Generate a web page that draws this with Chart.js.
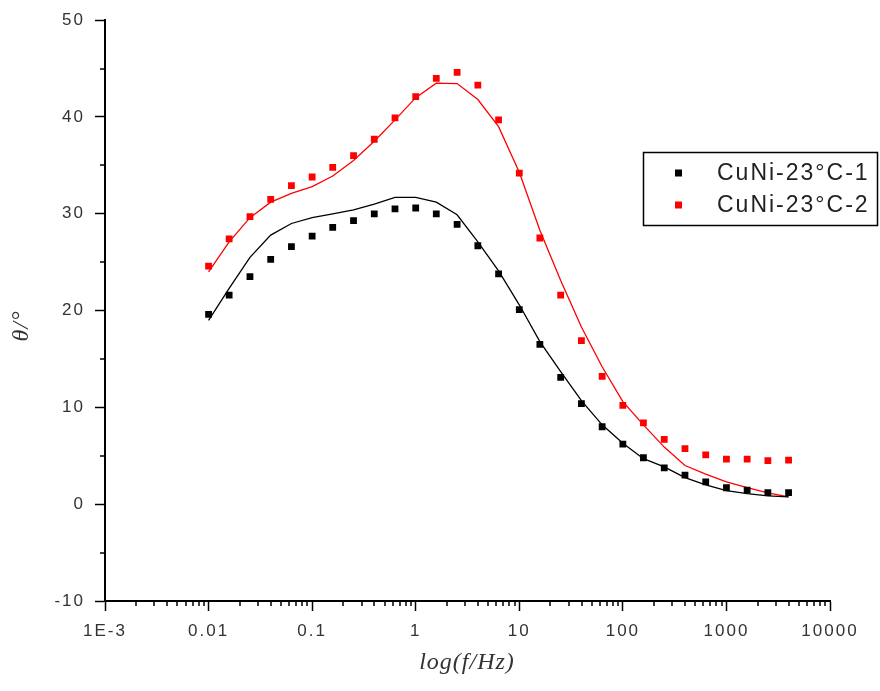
<!DOCTYPE html>
<html>
<head>
<meta charset="utf-8">
<script src="https://cdn.jsdelivr.net/npm/chart.js@4.4.0/dist/chart.umd.min.js"></script>
<style>
    html, body { margin: 0; padding: 0; background: #fff; }
    #wrap { width: 880px; height: 691px; position: relative; }
</style>
</head>
<body>
<div id="wrap"><canvas id="bodeChart" width="880" height="691"></canvas></div>
<script>
// 频率 (Hz)
const freqs = [0.01, 0.0158, 0.0251, 0.0398, 0.0631, 0.1, 0.158, 0.251, 0.398, 0.631,
               1, 1.58, 2.51, 3.98, 6.31, 10, 15.8, 25.1, 39.8, 63.1,
               100, 158, 251, 398, 631, 1000, 1585, 2512, 3981];

// 测量点
const phase1 = [19.6, 21.6, 23.5, 25.3, 26.6, 27.7, 28.6, 29.3, 30.0, 30.5,
                30.6, 30.0, 28.9, 26.7, 23.8, 20.1, 16.5, 13.1, 10.4, 8.0,
                6.2, 4.8, 3.75, 3.0, 2.3, 1.7, 1.45, 1.2, 1.2];
const phase2 = [24.6, 27.4, 29.7, 31.5, 32.9, 33.8, 34.8, 36.0, 37.7, 39.9,
                42.1, 44.0, 44.6, 43.3, 39.7, 34.2, 27.5, 21.6, 16.9, 13.2,
                10.2, 8.4, 6.7, 5.75, 5.1, 4.65, 4.65, 4.5, 4.55];

// 拟合曲线
const fit1 = [19.0, 22.3, 25.5, 27.8, 29.0, 29.6, 30.0, 30.4, 31.0, 31.7,
              31.7, 31.2, 29.9, 27.1, 24.1, 20.6, 16.8, 13.7, 10.7, 8.2,
              6.3, 4.7, 3.85, 2.75, 2.0, 1.4, 1.1, 0.86, 0.75];
const fit2 = [24.0, 27.1, 29.6, 31.2, 32.1, 32.8, 33.9, 35.5, 37.5, 39.7,
              42.0, 43.5, 43.45, 41.8, 39.0, 34.3, 28.3, 23.1, 18.3, 14.2,
              10.6, 8.2, 5.9, 4.0, 3.1, 2.3, 1.7, 1.17, 0.75];

const seriesNames = ['CuNi-23°C-1', 'CuNi-23°C-2'];

// 坐标轴刻度
const xTickValues = [0.001, 0.01, 0.1, 1, 10, 100, 1000, 10000];
const xTickLabels = ['1E-3', '0.01', '0.1', '1', '10', '100', '1000', '10000'];
const yMinorTicks = [-5, 5, 15, 25, 35, 45];

function toPoints(ys) {
    return freqs.map((f, i) => ({ x: f, y: ys[i] }));
}

// 字间距 + 次刻度 + 图例 + 轴标题
const originStyle = {
    id: 'originStyle',
    beforeDraw(chart) {
        chart.ctx.letterSpacing = '2px';
    },
    afterDraw(chart) {
        const ctx = chart.ctx;
        const xs = chart.scales.x;
        const ys = chart.scales.y;
        const area = chart.chartArea;

        ctx.save();
        ctx.strokeStyle = '#000';
        ctx.lineWidth = 1.5;
        ctx.beginPath();
        // x 次刻度
        for (let d = -3; d < 4; d++) {
            for (let m = 2; m < 10; m++) {
                const px = Math.round(xs.getPixelForValue(m * Math.pow(10, d)));
                ctx.moveTo(px, area.bottom);
                ctx.lineTo(px, area.bottom + 5);
            }
        }
        // y 次刻度
        yMinorTicks.forEach(v => {
            const py = Math.round(ys.getPixelForValue(v));
            ctx.moveTo(area.left - 5, py);
            ctx.lineTo(area.left, py);
        });
        ctx.stroke();

        // 图例
        ctx.lineWidth = 1.5;
        ctx.strokeRect(643.5, 152.5, 234, 73);
        ctx.font = '23px "Liberation Sans", Arial, sans-serif';
        ctx.letterSpacing = '2px';
        ctx.textBaseline = 'middle';
        ctx.textAlign = 'left';
        [0, 1].forEach(i => {
            const ds = chart.data.datasets[i];
            const rowY = 173 + i * 32;
            ctx.fillStyle = ds.backgroundColor;
            ctx.fillRect(675, rowY - 3.5, 7, 7);
            ctx.fillStyle = '#222';
            ctx.fillText(ds.label, 717, rowY + 1);
        });

        // 轴标题
        ctx.fillStyle = '#333';
        ctx.letterSpacing = '1px';
        ctx.textAlign = 'center';
        ctx.font = 'italic 24px "Liberation Serif", "Times New Roman", serif';
        ctx.fillText('log(f/Hz)', 467, 663);
        ctx.translate(22, 326);
        ctx.rotate(-Math.PI / 2);
        ctx.fillText('θ/°', 0, 0);
        ctx.restore();
    }
};

document.addEventListener('DOMContentLoaded', function() {
    const ctx = document.getElementById('bodeChart').getContext('2d');

    new Chart(ctx, {
        type: 'scatter',
        data: {
            datasets: [
                {
                    label: seriesNames[0],
                    data: toPoints(phase1),
                    backgroundColor: '#000000',
                    borderWidth: 0,
                    pointStyle: 'rect',
                    pointRadius: 4.8,
                    order: 0
                },
                {
                    label: seriesNames[1],
                    data: toPoints(phase2),
                    backgroundColor: '#ff0000',
                    borderWidth: 0,
                    pointStyle: 'rect',
                    pointRadius: 4.8,
                    order: 0
                },
                {
                    label: 'fit-1',
                    data: toPoints(fit1),
                    showLine: true,
                    borderColor: '#000000',
                    borderWidth: 1.3,
                    pointRadius: 0,
                    tension: 0,
                    order: 1
                },
                {
                    label: 'fit-2',
                    data: toPoints(fit2),
                    showLine: true,
                    borderColor: '#ff0000',
                    borderWidth: 1.3,
                    pointRadius: 0,
                    tension: 0,
                    order: 1
                }
            ]
        },
        options: {
            responsive: false,
            animation: false,
            layout: {
                padding: { left: 0, top: 20, right: 50, bottom: 0 }
            },
            plugins: {
                legend: { display: false },
                tooltip: { enabled: false }
            },
            scales: {
                x: {
                    type: 'logarithmic',
                    min: 0.001,
                    max: 10000,
                    afterBuildTicks: function(scale) {
                        scale.ticks = xTickValues.map(v => ({ value: v }));
                    },
                    afterFit: function(scale) {
                        scale.height = 90;
                    },
                    ticks: {
                        autoSkip: false,
                        maxRotation: 0,
                        padding: 10,
                        color: '#333',
                        font: { family: '"Liberation Sans", Arial, sans-serif', size: 17 },
                        callback: function(value, index) {
                            return xTickLabels[index];
                        }
                    },
                    grid: {
                        drawOnChartArea: false,
                        drawTicks: true,
                        tickLength: 10,
                        tickColor: '#000',
                        tickWidth: 1.5
                    },
                    border: { display: true, color: '#000', width: 2 }
                },
                y: {
                    min: -10,
                    max: 50,
                    afterFit: function(scale) {
                        scale.width = 105;
                    },
                    ticks: {
                        stepSize: 10,
                        padding: 10,
                        color: '#333',
                        font: { family: '"Liberation Sans", Arial, sans-serif', size: 17 }
                    },
                    grid: {
                        drawOnChartArea: false,
                        drawTicks: true,
                        tickLength: 10,
                        tickColor: '#000',
                        tickWidth: 1.5
                    },
                    border: { display: true, color: '#000', width: 2 }
                }
            }
        },
        plugins: [originStyle]
    });
});
</script>
</body>
</html>
